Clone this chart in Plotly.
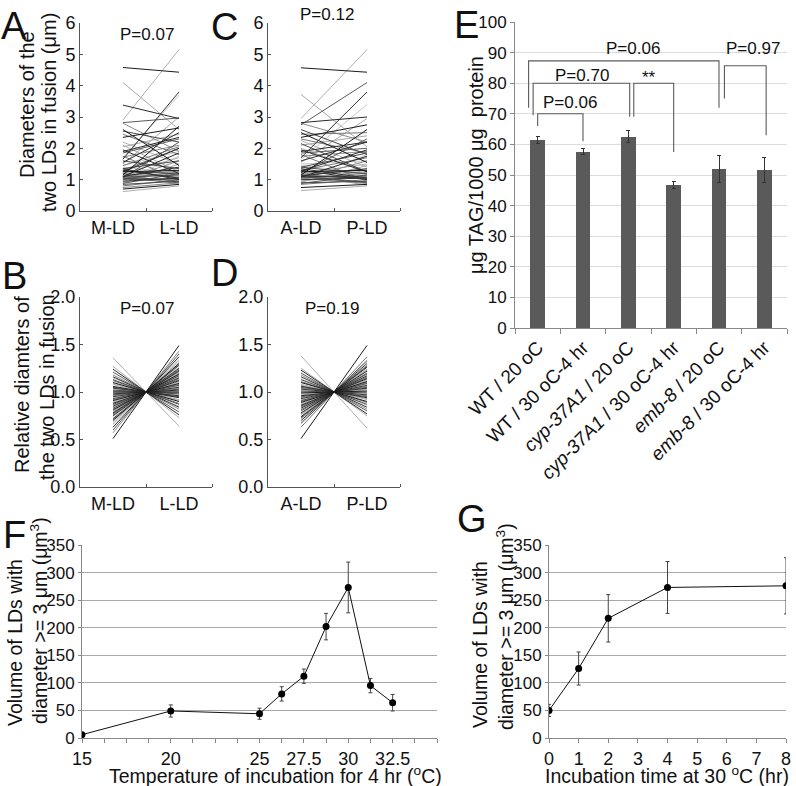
import plotly.graph_objects as go

W, H = 796, 786
FONT = "Liberation Sans, Arial, Helvetica, sans-serif"

# ---------------- data ----------------
# Panel A: diameters (um) of the two LDs in fusion (M-LD vs L-LD)
A_M_LD = [4.58, 2.90, 4.10, 3.38, 2.82, 2.80, 1.65, 1.70, 2.55, 2.45,
          2.35, 2.20, 2.05, 1.95, 1.85, 1.72, 1.55, 1.45, 1.35, 1.30,
          1.25, 1.20, 1.15, 1.10, 1.05, 1.00, 0.95, 0.90, 0.85, 0.80,
          0.70, 0.62, 1.20, 1.10, 1.05, 1.00, 1.30, 1.40, 1.60, 1.75,
          1.15, 0.95, 0.90, 1.25, 1.10, 1.20, 1.35, 0.98, 1.08, 1.18,
          2.60, 2.10, 1.50, 1.90, 0.88, 0.75, 1.02, 1.12, 1.28, 1.45]
A_L_LD = [4.43, 5.15, 2.60, 2.95, 2.97, 1.90, 3.80, 3.70, 2.20, 1.80,
          2.65, 1.50, 2.45, 1.20, 2.30, 2.10, 2.50, 1.90, 1.60, 2.00,
          1.30, 1.70, 1.15, 1.40, 0.90, 1.25, 1.05, 1.10, 0.95, 1.00,
          0.85, 0.80, 0.85, 1.85, 2.20, 1.60, 1.05, 1.20, 1.35, 1.00,
          2.70, 1.30, 1.50, 2.00, 0.95, 1.25, 1.00, 1.75, 1.15, 1.08,
          1.45, 1.25, 3.00, 2.35, 1.20, 0.90, 1.02, 1.30, 1.18, 2.05]

# Panel C: A-LD vs P-LD
C_A_LD = [4.57, 2.95, 3.72, 2.82, 2.75, 2.80, 1.70, 1.65, 2.60, 2.45,
          2.35, 2.25, 2.10, 1.95, 1.85, 1.75, 1.60, 1.50, 1.40, 1.30,
          1.25, 1.20, 1.15, 1.12, 1.10, 1.05, 1.00, 0.95, 0.90, 0.85,
          0.75, 0.65, 1.18, 1.08, 1.22, 1.02, 1.30, 1.45, 2.15, 1.80,
          1.15, 0.95, 0.92, 1.28, 1.10, 1.20, 1.35, 1.00, 1.08, 1.16,
          2.50, 2.00, 1.55, 1.90, 0.88, 1.05, 1.12, 1.25, 1.40, 2.30]
C_P_LD = [4.43, 5.15, 2.05, 3.00, 4.10, 2.20, 3.80, 3.40, 1.80, 2.50,
          2.75, 1.40, 2.40, 1.25, 2.00, 1.90, 2.20, 1.60, 1.85, 1.70,
          1.30, 1.50, 1.10, 1.35, 0.90, 1.20, 1.05, 1.15, 0.95, 1.00,
          0.85, 0.80, 0.82, 1.75, 2.30, 1.60, 1.00, 1.20, 1.25, 0.95,
          2.60, 1.30, 1.45, 1.95, 0.92, 1.22, 1.05, 1.80, 1.12, 1.02,
          1.55, 1.25, 2.95, 2.20, 1.15, 0.88, 1.05, 1.30, 1.18, 1.85]

# Panel B: relative diameters (M-LD vs L-LD)
B_M_LD = [0.51, 1.36, 1.27, 1.24, 1.21, 1.18, 1.16, 1.15, 1.13, 1.12,
          1.10, 1.09, 1.08, 1.06, 1.05, 1.05, 1.04, 1.03, 1.02, 1.01,
          1.00, 1.00, 0.99, 0.98, 0.97, 0.96, 0.95, 0.94, 0.93, 0.92,
          0.91, 0.90, 0.89, 0.88, 0.87, 0.86, 0.85, 0.84, 0.83, 0.82,
          0.81, 0.80, 0.79, 0.78, 0.77, 0.76, 0.75, 0.74, 0.72, 0.71,
          0.70, 0.68, 0.66, 0.63, 0.60, 0.57]
B_L_LD = [1.49, 0.64, 0.73, 0.76, 0.79, 0.82, 0.84, 0.85, 0.87, 0.88,
          0.90, 0.91, 0.92, 0.94, 0.95, 0.95, 0.96, 0.97, 0.98, 0.99,
          1.00, 1.00, 1.01, 1.02, 1.03, 1.04, 1.05, 1.06, 1.07, 1.08,
          1.09, 1.10, 1.11, 1.12, 1.13, 1.14, 1.15, 1.16, 1.17, 1.18,
          1.19, 1.20, 1.21, 1.22, 1.23, 1.24, 1.25, 1.26, 1.28, 1.29,
          1.30, 1.32, 1.34, 1.37, 1.40, 1.43]

# Panel D: relative diameters (A-LD vs P-LD)
D_A_LD = [0.51, 1.38, 1.25, 1.23, 1.20, 1.18, 1.16, 1.14, 1.13, 1.11,
          1.10, 1.08, 1.07, 1.06, 1.05, 1.04, 1.03, 1.02, 1.01, 1.00,
          0.99, 0.98, 0.97, 0.96, 0.95, 0.94, 0.93, 0.92, 0.91, 0.90,
          0.89, 0.88, 0.87, 0.86, 0.85, 0.84, 0.83, 0.82, 0.81, 0.80,
          0.78, 0.77, 0.76, 0.74, 0.73, 0.72, 0.70, 0.68, 0.67, 0.63]
D_P_LD = [1.49, 0.62, 0.75, 0.77, 0.80, 0.82, 0.84, 0.86, 0.87, 0.89,
          0.90, 0.92, 0.93, 0.94, 0.95, 0.96, 0.97, 0.98, 0.99, 1.00,
          1.01, 1.02, 1.03, 1.04, 1.05, 1.06, 1.07, 1.08, 1.09, 1.10,
          1.11, 1.12, 1.13, 1.14, 1.15, 1.16, 1.17, 1.18, 1.19, 1.20,
          1.22, 1.23, 1.24, 1.26, 1.27, 1.28, 1.30, 1.32, 1.33, 1.37]

# Panel E: TAG content
E_categories = ["WT / 20 oC", "WT / 30 oC-4 hr", "<i>cyp-37A1</i> / 20 oC",
                "<i>cyp-37A1</i> / 30 oC-4 hr", "<i>emb-8</i> / 20 oC",
                "<i>emb-8</i> / 30 oC-4 hr"]
E_values = [61.5, 57.6, 62.5, 46.7, 52.0, 51.7]
E_errors = [1.1, 1.0, 2.0, 1.1, 4.4, 4.1]
# comparison brackets: (left bar, left end, right bar, right end, top, label, label x, label y)
E_brackets = [
    (0.00, 66.0, 1.00, 61.0, 70.0, "P=0.06", 0.72, 73.8),
    (-0.10, 69.5, 2.03, 69.0, 80.0, "P=0.70", 0.98, 82.4),
    (2.12, 69.0, 3.00, 57.5, 80.0, "**", 2.45, 82.0),
    (-0.20, 72.0, 4.00, 72.0, 87.3, "P=0.06", 2.10, 91.4),
    (4.12, 75.0, 5.04, 63.0, 85.7, "P=0.97", 4.74, 91.4),
]

# Panel F: volume vs temperature
F_temperature = [15, 20, 25, 26.25, 27.5, 28.75, 30, 31.25, 32.5]
F_volume = [6, 49, 44, 80, 112, 202, 273, 95, 64]
F_error = [3, 11, 10, 13, 13, 24, 46, 13, 15]
F_tick_vals = [15, 20, 25, 27.5, 30, 32.5]
F_tick_text = ["15", "20", "25", "27.5", "30", "32.5"]
F_minor_ticks = [16.25, 17.5, 18.75, 21.25, 22.5, 23.75, 26.25, 28.75,
                 31.25, 33.75, 35]

# Panel G: volume vs incubation time
G_time = [0, 1, 2, 4, 8]
G_volume = [50, 126, 217, 273, 276]
G_error = [11, 30, 43, 47, 51]

# ---------------- styling helpers ----------------
LINE_SHADES = ["#1a1a1a", "#b0b0b0", "#a8a8a8", "#2a2a2a", "#5a5a5a",
               "#8a8a8a", "#333333", "#c8c8c8", "#4a4a4a", "#777777"]
AXC = "#555555"


def px_x(x):
    return x / W


def px_y(y):
    return 1 - y / H


fig = go.Figure()


def pair_lines(left, right, xl, xr, xa, ya):
    groups = {}
    for i, (a, b) in enumerate(zip(left, right)):
        c = LINE_SHADES[i % len(LINE_SHADES)]
        g = groups.setdefault(c, ([], []))
        g[0].extend([xl, xr, None])
        g[1].extend([a, b, None])
    order = sorted(groups.keys(), key=lambda c: -int(c[1:3], 16))
    for c in order:
        xs, ys = groups[c]
        fig.add_trace(go.Scatter(x=xs, y=ys, mode="lines", xaxis=xa, yaxis=ya,
                                 line=dict(color=c, width=1), hoverinfo="skip",
                                 showlegend=False))


pair_lines(A_M_LD, A_L_LD, 1.15, 2.0, "x", "y")
pair_lines(C_A_LD, C_P_LD, 1.0, 2.0, "x2", "y2")
pair_lines(B_M_LD, B_L_LD, 1.0, 2.0, "x3", "y3")
pair_lines(D_A_LD, D_P_LD, 1.0, 2.0, "x4", "y4")

# Panel E bars
fig.add_trace(go.Bar(x=list(range(len(E_values))), y=E_values, xaxis="x5", yaxis="y5",
                     width=0.33, marker=dict(color="#5a5a5a", line=dict(width=0)),
                     error_y=dict(type="data", array=E_errors, visible=True,
                                  color="#333333", thickness=1, width=2),
                     showlegend=False, hoverinfo="skip"))
for (xl, yl, xr, yr, yt, lab, lx, ly) in E_brackets:
    fig.add_trace(go.Scatter(x=[xl, xl, xr, xr], y=[yl, yt, yt, yr], mode="lines",
                             xaxis="x5", yaxis="y5", line=dict(color="#5a5a5a", width=1.1),
                             showlegend=False, hoverinfo="skip"))

# Panel F
fig.add_trace(go.Scatter(x=F_temperature, y=F_volume, mode="lines+markers",
                         xaxis="x6", yaxis="y6",
                         line=dict(color="#111111", width=1),
                         marker=dict(color="#000000", size=7),
                         error_y=dict(type="data", array=F_error, visible=True,
                                      color="#444444", thickness=1, width=2),
                         showlegend=False, hoverinfo="skip"))
# Panel G
fig.add_trace(go.Scatter(x=G_time, y=G_volume, mode="lines+markers",
                         xaxis="x7", yaxis="y7",
                         line=dict(color="#111111", width=1),
                         marker=dict(color="#000000", size=7),
                         error_y=dict(type="data", array=G_error, visible=True,
                                      color="#444444", thickness=1, width=2),
                         showlegend=False, hoverinfo="skip"))

tickfont = dict(family=FONT, size=18, color="#111111")


def pair_xaxis(dom, labels, anchor):
    return dict(domain=dom, anchor=anchor, range=[0.5, 2.5], tickvals=[1, 2],
                ticktext=labels, ticks="", showline=True, linecolor=AXC,
                linewidth=1, showgrid=False, zeroline=False, tickfont=tickfont,
                minor=dict(tickvals=[1.5, 2.5], ticks="inside", ticklen=3,
                           tickcolor=AXC, showgrid=False),
                automargin=False, fixedrange=True)


def pair_yaxis(dom, rng, dtick, fmt, anchor):
    return dict(domain=dom, anchor=anchor, range=rng, dtick=dtick, tickformat=fmt,
                ticks="inside", ticklen=3, tickcolor=AXC, showline=True,
                linecolor=AXC, linewidth=1, showgrid=False, zeroline=False,
                tickfont=tickfont, automargin=False, fixedrange=True)


AB_x = [px_x(80), px_x(212)]
CD_x = [px_x(268), px_x(400)]
AC_y = [px_y(211), px_y(23)]
BD_y = [px_y(487), px_y(297)]

layout = dict(
    template="none",
    width=W, height=H, margin=dict(l=0, r=0, t=0, b=0, pad=0, autoexpand=False),
    paper_bgcolor="white", plot_bgcolor="white",
    font=dict(family=FONT, color="#111111"),
    showlegend=False, bargap=0,
    xaxis=pair_xaxis(AB_x, ["M-LD", "L-LD"], "y"),
    yaxis=pair_yaxis(AC_y, [0, 6], 1, "d", "x"),
    xaxis2=pair_xaxis(CD_x, ["A-LD", "P-LD"], "y2"),
    yaxis2=pair_yaxis(AC_y, [0, 6], 1, "d", "x2"),
    xaxis3=pair_xaxis(AB_x, ["M-LD", "L-LD"], "y3"),
    yaxis3=pair_yaxis(BD_y, [0, 2], 0.5, ".1f", "x3"),
    xaxis4=pair_xaxis(CD_x, ["A-LD", "P-LD"], "y4"),
    yaxis4=pair_yaxis(BD_y, [0, 2], 0.5, ".1f", "x4"),
    xaxis5=dict(domain=[px_x(515), px_x(787)], anchor="y5", range=[-0.5, 5.5],
                tickvals=list(range(len(E_categories))), ticktext=E_categories,
                tickangle=-45, ticks="", showline=True, linecolor="#888888",
                showgrid=False, zeroline=False,
                tickfont=dict(family=FONT, size=19, color="#111111"),
                minor=dict(tickvals=[-0.5, 0.5, 1.5, 2.5, 3.5, 4.5, 5.5],
                           ticks="outside", ticklen=5, tickcolor="#888888",
                           showgrid=False),
                automargin=False, fixedrange=True),
    yaxis5=dict(domain=[px_y(328), px_y(22)], anchor="x5", range=[0, 100], dtick=10,
                ticks="outside", ticklen=4, tickcolor="#888888", showline=True,
                linecolor="#888888", showgrid=True, gridcolor="#dcdcdc", zeroline=False,
                tickfont=dict(family=FONT, size=17, color="#111111"),
                automargin=False, fixedrange=True),
    xaxis6=dict(domain=[px_x(82), px_x(437)], anchor="y6", range=[15, 35],
                tickvals=F_tick_vals, ticktext=F_tick_text, ticks="outside",
                ticklen=4, tickcolor="#888888", showline=True, linecolor="#888888",
                showgrid=False, zeroline=False,
                minor=dict(tickvals=F_minor_ticks, ticks="outside", ticklen=4,
                           tickcolor="#888888", showgrid=False),
                tickfont=dict(family=FONT, size=18, color="#111111"),
                automargin=False, fixedrange=True),
    yaxis6=dict(domain=[px_y(738), px_y(545)], anchor="x6", range=[0, 350], dtick=50,
                ticks="outside", ticklen=3, tickcolor="#888888", showline=True,
                linecolor="#888888", showgrid=True, gridcolor="#a8a8a8", zeroline=False,
                tickfont=dict(family=FONT, size=17, color="#111111"),
                automargin=False, fixedrange=True),
    xaxis7=dict(domain=[px_x(549), px_x(786)], anchor="y7", range=[0, 8], dtick=1,
                ticks="outside", ticklen=4, tickcolor="#888888", showline=True,
                linecolor="#888888", showgrid=False, zeroline=False,
                tickfont=dict(family=FONT, size=18, color="#111111"),
                automargin=False, fixedrange=True),
    yaxis7=dict(domain=[px_y(738), px_y(545)], anchor="x7", range=[0, 350], dtick=50,
                ticks="outside", ticklen=3, tickcolor="#888888", showline=True,
                linecolor="#888888", showgrid=True, gridcolor="#a8a8a8", zeroline=False,
                tickfont=dict(family=FONT, size=17, color="#111111"),
                automargin=False, fixedrange=True),
)
fig.update_layout(**layout)

ann = []


def text(x, y, s, size, angle=0, xref="paper", yref="paper", paper=True):
    ann.append(dict(x=px_x(x) if paper else x, y=px_y(y) if paper else y,
                    xref=xref, yref=yref, text=s, showarrow=False,
                    textangle=angle, xanchor="center", yanchor="middle",
                    font=dict(family=FONT, size=size, color="#111111")))


# panel letters
for lab, x, y in [("A", 14, 26), ("B", 14, 276), ("C", 225, 27), ("D", 225, 273),
                  ("E", 466, 25), ("F", 14, 535), ("G", 472, 519)]:
    text(x, y, lab, 38)

# P values in A-D
text(147, 34, "P=0.07", 17)
text(327, 15, "P=0.12", 17)
text(147, 308, "P=0.07", 17)
text(332, 308, "P=0.19", 17)

# axis titles
text(27, 105, "Diameters of the", 20, -90)
text(49, 113, "two LDs in fusion (μm)", 20, -90)
text(22, 385, "Relative diamters of", 20, -90)
text(47, 387, "the two LDs in fusion", 20, -90)
text(476, 165, "μg TAG/1000 μg  protein", 20, -90)
text(15, 643, "Volume of LDs with", 19.5, -90)
text(39, 621, "diameter >= 3 μm (μm<sup>3</sup>)", 19.5, -90)
text(480, 644, "Volume of LDs with", 19.5, -90)
text(505, 627, "diameter >= 3 μm (μm<sup>3</sup>)", 19.5, -90)
text(275, 775, "Temperature of incubation for 4 hr (<sup>o</sup>C)", 19.5)
text(667, 775, "Incubation time at 30 <sup>o</sup>C (hr)", 19.5)

# E bracket labels
for (xl, yl, xr, yr, yt, lab, lx, ly) in E_brackets:
    text(lx, ly, lab, 17, xref="x5", yref="y5", paper=False)

fig.update_layout(annotations=ann)
fig.write_html("out.html", config={"displayModeBar": False},
               post_script="document.body.style.margin='0';document.body.style.padding='0';")
